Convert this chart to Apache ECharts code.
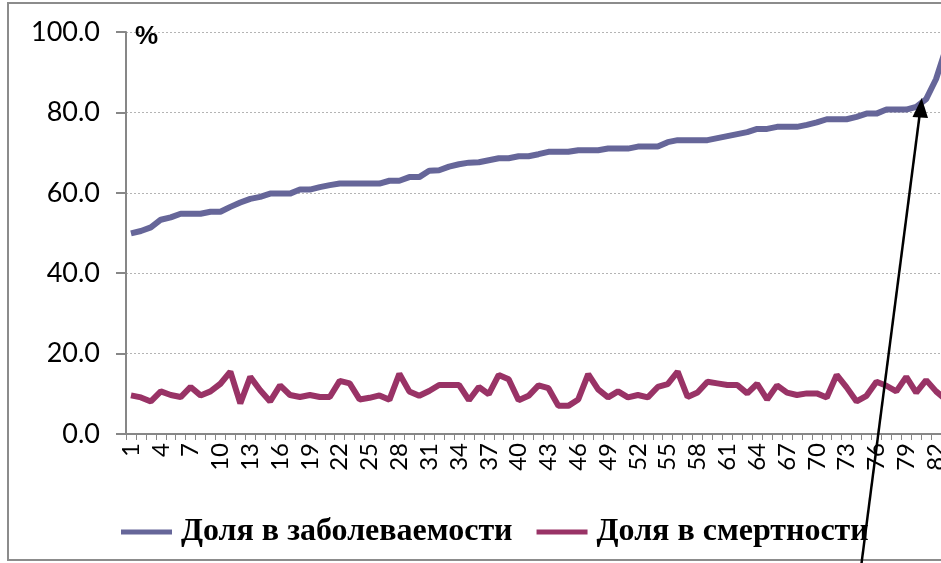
<!DOCTYPE html>
<html>
<head>
<meta charset="utf-8">
<script src="https://cdn.jsdelivr.net/npm/echarts@6/dist/echarts.min.js"></script>
<style>
html,body{margin:0;padding:0;background:#fff;}
#chart{width:941px;height:563px;}
</style>
</head>
<body>
<div id="chart"></div>
<script>
// ---- data ----
const categories = [];
for (let i = 1; i <= 83; i++) categories.push(String(i));

const seriesNames = ['Доля в заболеваемости', 'Доля в смертности'];

const morbidityShare = [
  49.9, 50.5, 51.4, 53.3, 53.9, 54.8, 54.8, 54.8, 55.3, 55.3,
  56.5, 57.6, 58.5, 59.0, 59.8, 59.8, 59.8, 60.8, 60.8, 61.4,
  61.9, 62.3, 62.3, 62.3, 62.3, 62.3, 63.0, 63.0, 63.9, 63.9,
  65.5, 65.6, 66.5, 67.1, 67.5, 67.6, 68.1, 68.6, 68.6, 69.1,
  69.1, 69.6, 70.2, 70.2, 70.2, 70.6, 70.6, 70.6, 71.0, 71.0,
  71.0, 71.5, 71.5, 71.5, 72.6, 73.1, 73.1, 73.1, 73.1, 73.6,
  74.1, 74.6, 75.1, 75.9, 75.9, 76.4, 76.4, 76.4, 76.9, 77.5,
  78.3, 78.3, 78.3, 78.9, 79.7, 79.7, 80.7, 80.7, 80.7, 81.4,
  83.3, 88.3, 96.0
];

const mortalityShare = [
  9.6, 9.1, 8.1, 10.6, 9.7, 9.2, 11.7, 9.6, 10.6, 12.5,
  15.5, 7.6, 14.2, 10.9, 8.1, 12.1, 9.7, 9.2, 9.7, 9.2,
  9.2, 13.2, 12.6, 8.6, 9.0, 9.6, 8.5, 15.0, 10.6, 9.5,
  10.7, 12.2, 12.2, 12.2, 8.4, 11.7, 9.9, 14.7, 13.6, 8.4,
  9.5, 12.1, 11.4, 7.0, 7.0, 8.6, 14.9, 11.1, 9.1, 10.6,
  9.1, 9.7, 9.1, 11.7, 12.4, 15.5, 9.2, 10.3, 13.0, 12.6,
  12.2, 12.2, 10.1, 12.5, 8.6, 12.1, 10.3, 9.7, 10.1, 10.1,
  9.1, 14.7, 11.6, 8.1, 9.5, 13.0, 12.0, 10.6, 14.2, 10.3,
  13.4, 10.6, 8.5
];

const yMin = 0, yMax = 100, yStep = 20;
const unitLabel = '%';

// ---- chart ----
const chart = echarts.init(document.getElementById('chart'), null, {renderer: 'canvas'});
const axisGray = '#878787';

chart.setOption({
  animation: false,
  backgroundColor: '#ffffff',
  grid: {left: 126, top: 32, width: 825, bottom: 129, containLabel: false, outerBoundsMode: 'none'},
  legend: {
    left: 121, top: 516, padding: 0,
    icon: 'rect',
    itemWidth: 51, itemHeight: 5,
    itemGap: 24,
    textStyle: {fontFamily: 'Liberation Serif', fontWeight: 'bold', fontSize: 32, color: '#000', padding: [0, 0, 0, 4]},
    data: seriesNames
  },
  xAxis: {
    type: 'category',
    data: categories,
    boundaryGap: true,
    axisLine: {lineStyle: {color: axisGray, width: 2}},
    axisTick: {show: true, interval: 0, length: 6, lineStyle: {color: axisGray, width: 1}},
    axisLabel: {interval: 2, rotate: 90, margin: 9, fontFamily: 'Lato', fontSize: 24, color: '#000'},
    splitLine: {show: false}
  },
  yAxis: {
    type: 'value',
    min: yMin, max: yMax, interval: yStep,
    axisLine: {show: true, lineStyle: {color: axisGray, width: 2}},
    axisTick: {show: true, length: 10, lineStyle: {color: axisGray, width: 2}},
    axisLabel: {margin: 26, fontFamily: 'Lato', fontSize: 27, color: '#000', formatter: v => v.toFixed(1)},
    splitLine: {show: true, lineStyle: {color: '#b4b4b4', width: 1, type: [2, 2]}}
  },
  series: [
    {
      name: seriesNames[0], type: 'line', data: morbidityShare,
      showSymbol: false, symbol: 'none', clip: true,
      lineStyle: {color: '#666699', width: 6}, itemStyle: {color: '#666699'}
    },
    {
      name: seriesNames[1], type: 'line', data: mortalityShare,
      showSymbol: false, symbol: 'none', clip: true,
      lineStyle: {color: '#993366', width: 6}, itemStyle: {color: '#993366'}
    }
  ],
  graphic: [
    {type: 'rect', shape: {x: 8, y: 3, width: 1000, height: 557}, style: {fill: 'none', stroke: '#8c8c8c', lineWidth: 2}, z: 0, silent: true},
    {type: 'text', left: 135, top: 24, style: {text: unitLabel, fontFamily: 'Liberation Sans', fontWeight: 'bold', fontSize: 26, fill: '#000'}, z: 10},
    {type: 'line', shape: {x1: 860, y1: 575, x2: 920, y2: 112}, style: {stroke: '#000', lineWidth: 2.5}, z: 20},
    {type: 'polygon', shape: {points: [[921.7, 98], [912.5, 117], [928, 118]]}, style: {fill: '#000'}, z: 20}
  ]
});
</script>
</body>
</html>
